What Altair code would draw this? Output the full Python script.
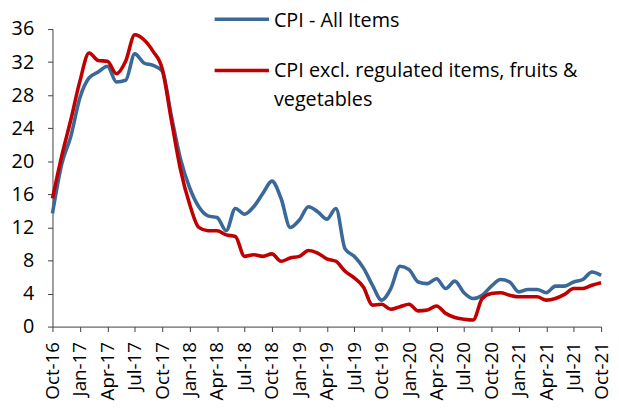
import altair as alt
import pandas as pd

months = [
    "Oct-16", "Nov-16", "Dec-16",
    "Jan-17", "Feb-17", "Mar-17", "Apr-17", "May-17", "Jun-17", "Jul-17", "Aug-17", "Sep-17", "Oct-17", "Nov-17", "Dec-17",
    "Jan-18", "Feb-18", "Mar-18", "Apr-18", "May-18", "Jun-18", "Jul-18", "Aug-18", "Sep-18", "Oct-18", "Nov-18", "Dec-18",
    "Jan-19", "Feb-19", "Mar-19", "Apr-19", "May-19", "Jun-19", "Jul-19", "Aug-19", "Sep-19", "Oct-19", "Nov-19", "Dec-19",
    "Jan-20", "Feb-20", "Mar-20", "Apr-20", "May-20", "Jun-20", "Jul-20", "Aug-20", "Sep-20", "Oct-20", "Nov-20", "Dec-20",
    "Jan-21", "Feb-21", "Mar-21", "Apr-21", "May-21", "Jun-21", "Jul-21", "Aug-21", "Sep-21", "Oct-21",
]

cpi_all = [
    13.7, 19.6, 23.0,
    27.7, 30.1, 30.8, 31.5, 29.6, 29.8, 33.0, 31.9, 31.6, 30.9, 25.5, 20.3,
    16.8, 14.5, 13.4, 13.2, 11.6, 14.3, 13.6, 14.5, 16.1, 17.6, 15.5, 12.0,
    12.9, 14.5, 13.9, 13.0, 14.3, 9.4, 8.5, 7.1, 5.0, 3.2, 4.6, 7.3,
    6.9, 5.4, 5.2, 5.8, 4.6, 5.5, 4.1, 3.4, 3.8, 4.9, 5.7, 5.4,
    4.2, 4.5, 4.5, 4.1, 4.9, 4.9, 5.4, 5.7, 6.6, 6.2,
]

cpi_excl = [
    15.5, 20.6, 25.0,
    29.7, 33.1, 32.2, 32.1, 30.6, 32.1, 35.3, 34.7, 33.3, 31.2, 25.0, 19.0,
    14.8, 12.0, 11.6, 11.6, 11.1, 10.9, 8.5, 8.7, 8.5, 8.8, 7.9, 8.3,
    8.5, 9.2, 8.9, 8.2, 7.9, 6.7, 5.9, 4.8, 2.6, 2.7, 2.1, 2.4,
    2.7, 1.9, 2.0, 2.5, 1.6, 1.1, 0.9, 0.8, 3.4, 4.0, 4.1, 3.8,
    3.6, 3.6, 3.6, 3.2, 3.4, 3.9, 4.6, 4.6, 5.0, 5.3,
]

series_names = ["CPI - All Items", "CPI excl. regulated items, fruits & vegetables"]
legend_lines = ["CPI - All Items", "CPI excl. regulated items, fruits &", "vegetables"]
series_colors = ["#3A6898", "#C00000"]
y_ticks = [0, 4, 8, 12, 16, 20, 24, 28, 32, 36]
x_ticks = months[::3]

df = pd.concat([
    pd.DataFrame({"month": months, "value": cpi_all, "series": series_names[0]}),
    pd.DataFrame({"month": months, "value": cpi_excl, "series": series_names[1]}),
])

FONT = "Open Sans"

lines = alt.Chart(df).mark_line(strokeWidth=3.6, interpolate="monotone").encode(
    x=alt.X("month:O", sort=months, title=None,
            scale=alt.Scale(type="point", padding=0),
            axis=alt.Axis(values=x_ticks, labelAngle=-90, tickSize=5, labelPadding=10,
                          labelFontSize=19, labelFont=FONT, labelColor="#000000",
                          domainColor="#404040", tickColor="#404040", grid=False)),
    y=alt.Y("value:Q", title=None,
            scale=alt.Scale(domain=[0, 36], nice=False),
            axis=alt.Axis(values=y_ticks, tickSize=5, labelPadding=14,
                          labelFontSize=20, labelFont=FONT, labelColor="#000000",
                          domainColor="#404040", tickColor="#404040", grid=False)),
    color=alt.Color("series:N", scale=alt.Scale(domain=series_names, range=series_colors), legend=None),
)

one = pd.DataFrame({"k": [0]})

leg_rule1 = alt.Chart(one).mark_rule(strokeWidth=3.6, color=series_colors[0]).encode(
    x=alt.value(164), x2=alt.value(219), y=alt.value(-10))
leg_rule2 = alt.Chart(one).mark_rule(strokeWidth=3.6, color=series_colors[1]).encode(
    x=alt.value(164), x2=alt.value(219), y=alt.value(42))

txt_props = dict(align="left", baseline="middle", font=FONT, fontSize=20, color="#000000")
leg_t1 = alt.Chart(one).mark_text(text=legend_lines[0], **txt_props).encode(
    x=alt.value(224), y=alt.value(-8.5))
leg_t2 = alt.Chart(one).mark_text(text=legend_lines[1], **txt_props).encode(
    x=alt.value(224), y=alt.value(42))
leg_t3 = alt.Chart(one).mark_text(text=legend_lines[2], **txt_props).encode(
    x=alt.value(224), y=alt.value(72))

chart = alt.layer(lines, leg_rule1, leg_rule2, leg_t1, leg_t2, leg_t3).properties(
    width=555, height=301,
    padding={"left": 45, "top": 19, "right": 10, "bottom": 76},
    autosize=alt.AutoSizeParams(type="none"),
).configure_view(stroke=None)

chart.save("out.html", embed_options={"renderer": "svg", "actions": False})
